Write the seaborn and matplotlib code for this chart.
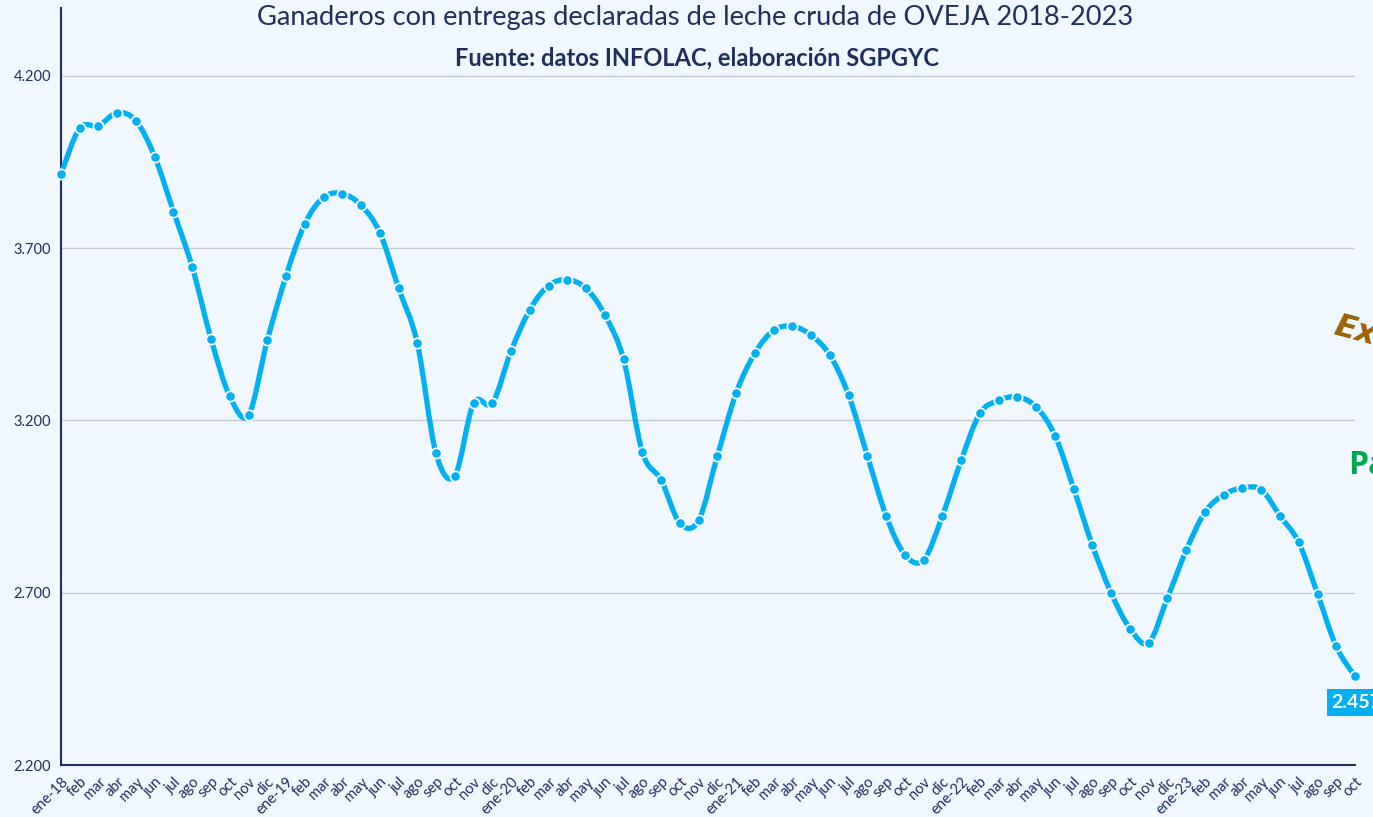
import numpy as np
import pandas as pd
import matplotlib
matplotlib.use("Agg")
import matplotlib.pyplot as plt
import seaborn as sns
from matplotlib.path import Path
from matplotlib.patches import PathPatch
from matplotlib.ticker import FuncFormatter

# datos mensuales ene-18 .. oct-23
meses = ["ene", "feb", "mar", "abr", "may", "jun", "jul", "ago", "sep", "oct", "nov", "dic"]
etiquetas = []
for anio in range(18, 24):
    for i, m in enumerate(meses):
        if anio == 23 and i > 9:
            break
        etiquetas.append(f"ene-{anio}" if i == 0 else m)

ganaderos_2018 = [3915, 4048, 4055, 4093, 4069, 3965, 3806, 3645, 3437, 3270, 3215, 3432]
ganaderos_2019 = [3619, 3770, 3847, 3858, 3824, 3745, 3584, 3424, 3104, 3039, 3250, 3250]
ganaderos_2020 = [3401, 3521, 3591, 3608, 3583, 3506, 3377, 3108, 3027, 2902, 2910, 3097]
ganaderos_2021 = [3279, 3395, 3461, 3473, 3447, 3389, 3273, 3097, 2923, 2810, 2795, 2923]
ganaderos_2022 = [3084, 3220, 3258, 3268, 3239, 3156, 3002, 2837, 2699, 2596, 2555, 2685]
ganaderos_2023 = [2823, 2934, 2984, 3004, 2999, 2923, 2846, 2697, 2544, 2457]

valores = (ganaderos_2018 + ganaderos_2019 + ganaderos_2020 +
           ganaderos_2021 + ganaderos_2022 + ganaderos_2023)
df = pd.DataFrame({"pos": np.arange(len(valores)), "mes": etiquetas, "ganaderos": valores})

AZUL = "#00B0F0"
NAVY = "#1F2E5E"
FONDO = "#F0F7FE"

sns.set_theme(style="white")
plt.rcParams["font.family"] = ["Lato", "DejaVu Sans"]

fig = plt.figure(figsize=(13.73, 8.17), dpi=100, facecolor=FONDO)
ax = fig.add_axes([0.0444, 0.0636, 0.9425, 0.9264])
ax.set_facecolor(FONDO)

# linea suavizada (bezier tipo Excel) sobre los puntos
x = df["pos"].to_numpy(float)
y = df["ganaderos"].to_numpy(float)
pts = np.column_stack([x, y])
ext = np.vstack([pts[0], pts, pts[-1]])
verts = [tuple(pts[0])]
codes = [Path.MOVETO]
for i in range(1, len(ext) - 2):
    p0, p1, p2, p3 = ext[i - 1], ext[i], ext[i + 1], ext[i + 2]
    c1 = p1 + (p2 - p0) / 6.0
    c2 = p2 - (p3 - p1) / 6.0
    verts += [tuple(c1), tuple(c2), tuple(p2)]
    codes += [Path.CURVE4] * 3
ax.add_patch(PathPatch(Path(verts, codes), facecolor="none", edgecolor=AZUL,
                       lw=3.8, capstyle="round", joinstyle="round", zorder=3, clip_on=False))

sns.scatterplot(data=df, x="pos", y="ganaderos", ax=ax, color=AZUL, s=55,
                edgecolor="white", linewidth=1.2, zorder=4, clip_on=False, legend=False)

ax.set_xlim(0, len(valores) - 1)
ax.set_ylim(2200, 4396)
ax.set_yticks([2200, 2700, 3200, 3700, 4200])
ax.yaxis.set_major_formatter(FuncFormatter(lambda v, p: f"{int(v):,}".replace(",", ".")))
ax.set_xticks(df["pos"])
ax.set_xticklabels(df["mes"], rotation=45, ha="right", rotation_mode="anchor",
                   fontsize=10.5, color=NAVY)
ax.tick_params(axis="x", direction="out", length=5, width=1.2, color=NAVY, pad=2)
ax.tick_params(axis="y", direction="out", length=4, width=1.2, color=NAVY,
               labelsize=10.5, labelcolor=NAVY, pad=3)
ax.set_xlabel("")
ax.set_ylabel("")

for v in [2700, 3200, 3700, 4200]:
    ax.axhline(v, color="#C5CAD6", lw=1, zorder=1)

for s in ["top", "right"]:
    ax.spines[s].set_visible(False)
for s in ["left", "bottom"]:
    ax.spines[s].set_color(NAVY)
    ax.spines[s].set_linewidth(1.5)

# etiqueta ultimo valor
ax.annotate(f"{valores[-1]:,}".replace(",", "."), xy=(x[-1], y[-1]), xytext=(-17, -19),
            textcoords="offset points", ha="left", va="center", fontsize=14,
            fontweight="bold", color="white", zorder=5, annotation_clip=False,
            bbox=dict(boxstyle="square,pad=0.25", facecolor=AZUL, edgecolor="none"))

fig.text(0.506, 0.978, "Ganaderos con entregas declaradas de leche cruda de OVEJA 2018-2023",
         ha="center", va="center", fontsize=19.6, color=NAVY, fontweight="normal")
fig.text(0.508, 0.929, "Fuente: datos INFOLAC, elaboración SGPGYC",
         ha="center", va="center", fontsize=17, color=NAVY, fontweight="bold")

fig.text(0.969, 0.592, "Ext", ha="left", va="center", fontsize=23, color="#9A6300",
         fontweight="bold", style="italic", rotation=-15, family=["DejaVu Sans"])
fig.text(0.982, 0.430, "Pa", ha="left", va="center", fontsize=23, color="#00A850",
         fontweight="bold", family=["Open Sans", "DejaVu Sans"])

fig.savefig("out.png", dpi=100, facecolor=FONDO)
